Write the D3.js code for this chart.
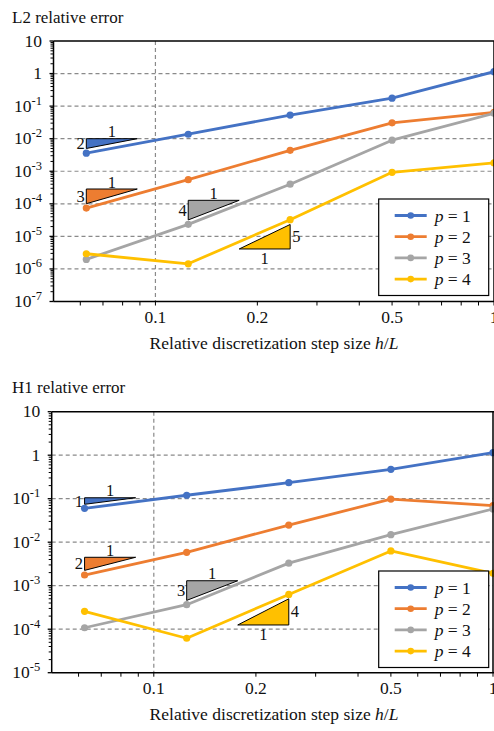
<!DOCTYPE html>
<html><head><meta charset="utf-8">
<script src="https://cdn.jsdelivr.net/npm/d3@7"></script>
<style>body{margin:0;background:#fff}</style>
</head><body><svg id="c" width="494" height="731" font-family="'Liberation Serif', 'Times New Roman', 'DejaVu Serif', serif"></svg>
<script>
// ---------- data ----------
const hValues = [0.0625, 0.125, 0.25, 0.5, 1];
const seriesOrders = ["1", "2", "3", "4"];
const seriesColors = ["#4472C4", "#ED7D31", "#A5A5A5", "#FFC000"];

const l2P1 = [3.6e-3, 1.37e-2, 0.053, 0.176, 1.14];
const l2P2 = [7.4e-5, 5.5e-4, 4.4e-3, 0.0307, 0.064];
const l2P3 = [1.96e-6, 2.34e-5, 4.0e-4, 9.0e-3, 0.06];
const l2P4 = [2.93e-6, 1.44e-6, 3.26e-5, 9.3e-4, 1.8e-3];

const h1P1 = [0.060, 0.12, 0.233, 0.474, 1.14];
const h1P2 = [1.76e-3, 5.86e-3, 0.0248, 0.098, 0.069];
const h1P3 = [1.08e-4, 3.66e-4, 3.3e-3, 0.0149, 0.058];
const h1P4 = [2.58e-4, 6.2e-5, 6.3e-4, 6.3e-3, 1.93e-3];

const xTickValues = [0.1, 0.2, 0.5, 1];
const xTickLabels = ["0.1", "0.2", "0.5", "1"];
const xMinorTicks = [0.06, 0.07, 0.08, 0.09, 0.3, 0.4, 0.6, 0.7, 0.8, 0.9];
const l2TickExps = [1, 0, -1, -2, -3, -4, -5, -6, -7];
const h1TickExps = [1, 0, -1, -2, -3, -4, -5];

// slope triangles: slope, anchor h, anchor value, kind
const l2Slopes = [2, 3, 4, 5];
const l2SlopeH = [0.0625, 0.0625, 0.125, 0.25];
const l2SlopeV = [1.0e-2, 2.85e-4, 1.28e-4, 4.1e-6];
const h1Slopes = [1, 2, 3, 4];
const h1SlopeH = [0.0625, 0.0625, 0.125, 0.25];
const h1SlopeV = [1.05e-1, 4.5e-3, 1.3e-3, 1.25e-4];
const slopeKinds = ["top", "top", "top", "bottom"];

// ---------- layout ----------
const panels = [
  { title: "L2 relative error", titleY: 23,
    series: [l2P1, l2P2, l2P3, l2P4], exps: l2TickExps,
    slopes: l2Slopes, slopeH: l2SlopeH, slopeV: l2SlopeV,
    left: 53.5, right: 494, top: 41, bottom: 301.5, legendTop: 199 },
  { title: "H1 relative error", titleY: 393,
    series: [h1P1, h1P2, h1P3, h1P4], exps: h1TickExps,
    slopes: h1Slopes, slopeH: h1SlopeH, slopeV: h1SlopeV,
    left: 51.7, right: 493, top: 411.7, bottom: 672.7, legendTop: 571 }
];

const svg = d3.select("#c");
const FF = "'Liberation Serif', 'Times New Roman', 'DejaVu Serif', serif";

panels.forEach(P => {
  const g = svg.append("g").attr("font-family", FF).attr("fill", "#111");
  const x = d3.scaleLog().domain([0.05, 1]).range([P.left, P.right]);
  const yMax = Math.pow(10, d3.max(P.exps)), yMin = Math.pow(10, d3.min(P.exps));
  const y = d3.scaleLog().domain([yMin, yMax]).range([P.bottom, P.top]);

  // title
  g.append("text").attr("x", 12).attr("y", P.titleY).attr("font-size", 17).text(P.title);

  // gridlines
  const gridExps = P.exps.filter(e => Math.pow(10, e) < yMax && Math.pow(10, e) > yMin);
  g.selectAll(".hg").data(gridExps).join("line")
    .attr("x1", P.left).attr("x2", P.right)
    .attr("y1", e => y(Math.pow(10, e))).attr("y2", e => y(Math.pow(10, e)))
    .attr("stroke", "#8a8a8a").attr("stroke-width", 1.2).attr("stroke-dasharray", "4,3");
  g.append("line").attr("x1", x(0.1)).attr("x2", x(0.1)).attr("y1", P.top).attr("y2", P.bottom)
    .attr("stroke", "#8a8a8a").attr("stroke-width", 1.2).attr("stroke-dasharray", "4,3");

  // slope triangles
  P.slopes.forEach((s, i) => {
    const h = P.slopeH[i], v = P.slopeV[i], kind = slopeKinds[i];
    const f = Math.SQRT2, col = seriesColors[i];
    let pts, lab1, labS;
    if (kind === "top") {
      pts = [[h, v], [h * f, v], [h, v / Math.pow(f, s)]];
      const xl = x(h), xr = x(h * f), yt = y(v), yb = y(v / Math.pow(f, s));
      lab1 = { x: (xl + xr) / 2, y: yt - 1.5, anchor: "middle" };
      labS = { x: xl - 1.5, y: (yt + yb) / 2 + 5.5, anchor: "end" };
    } else {
      pts = [[h / f, v], [h, v], [h, v * Math.pow(f, s)]];
      const xl = x(h / f), xr = x(h), yb = y(v), yt = y(v * Math.pow(f, s));
      lab1 = { x: (xl + xr) / 2, y: yb + 15, anchor: "middle" };
      labS = { x: xr + 2, y: (yt + yb) / 2 + 5.5, anchor: "start" };
    }
    g.append("path")
      .attr("d", d3.line().x(d => x(d[0])).y(d => y(d[1]))(pts) + "Z")
      .attr("fill", col).attr("stroke", "#000").attr("stroke-width", 1);
    g.append("text").attr("x", lab1.x).attr("y", lab1.y).attr("text-anchor", lab1.anchor)
      .attr("font-size", 16.5).text("1");
    g.append("text").attr("x", labS.x).attr("y", labS.y).attr("text-anchor", labS.anchor)
      .attr("font-size", 16.5).text(String(s));
  });

  // series lines
  const line = d3.line().x((d, j) => x(hValues[j])).y(d => y(d));
  P.series.forEach((vals, i) => {
    g.append("path").attr("d", line(vals)).attr("fill", "none")
      .attr("stroke", seriesColors[i]).attr("stroke-width", 2.8).attr("stroke-linejoin", "round");
    g.selectAll(null).data(vals).join("circle")
      .attr("cx", (d, j) => x(hValues[j])).attr("cy", d => y(d)).attr("r", 3.6)
      .attr("fill", seriesColors[i]);
  });

  // axes frame
  g.append("line").attr("x1", P.left).attr("x2", P.right + 2).attr("y1", P.top).attr("y2", P.top)
    .attr("stroke", "#000").attr("stroke-width", 1.5);
  g.append("line").attr("x1", P.right).attr("x2", P.right).attr("y1", P.top).attr("y2", P.bottom)
    .attr("stroke", "#000").attr("stroke-width", 1.5);
  g.append("line").attr("x1", P.left).attr("x2", P.left).attr("y1", P.top).attr("y2", P.bottom)
    .attr("stroke", "#000").attr("stroke-width", 1.5);
  g.append("line").attr("x1", P.left).attr("x2", P.right + 2).attr("y1", P.bottom).attr("y2", P.bottom)
    .attr("stroke", "#000").attr("stroke-width", 1.5);

  // y ticks (major + minor, outward)
  const minorY = [];
  P.exps.forEach(e => { if (Math.pow(10, e) < yMax) for (let k = 2; k <= 9; k++) minorY.push(k * Math.pow(10, e)); });
  g.selectAll(".ymi").data(minorY).join("line")
    .attr("x1", P.left - 3).attr("x2", P.left).attr("y1", d => y(d)).attr("y2", d => y(d))
    .attr("stroke", "#000").attr("stroke-width", 1);
  g.selectAll(".yma").data(P.exps).join("line")
    .attr("x1", P.left - 4).attr("x2", P.left).attr("y1", e => y(Math.pow(10, e))).attr("y2", e => y(Math.pow(10, e)))
    .attr("stroke", "#000").attr("stroke-width", 1.3);
  P.exps.forEach(e => {
    const t = g.append("text").attr("x", P.left - 11.5).attr("y", y(Math.pow(10, e)) + 5.5)
      .attr("text-anchor", "end").attr("font-size", 17.5);
    if (e === 1) t.text("10");
    else if (e === 0) t.text("1");
    else {
      t.append("tspan").text("10");
      t.append("tspan").attr("font-size", 12.5).attr("dy", -7).text("-" + (-e));
    }
  });

  // x ticks
  g.selectAll(".xmi").data(xMinorTicks.concat(xTickValues)).join("line")
    .attr("x1", d => x(d)).attr("x2", d => x(d)).attr("y1", P.bottom).attr("y2", P.bottom + 4)
    .attr("stroke", "#000").attr("stroke-width", 1);
  xTickValues.forEach((v, i) => {
    g.append("text").attr("x", x(v)).attr("y", P.bottom + 21.5).attr("text-anchor", "middle")
      .attr("font-size", 17.5).text(xTickLabels[i]);
  });
  const xl = g.append("text").attr("x", 274).attr("y", P.bottom + 47.5).attr("text-anchor", "middle")
    .attr("font-size", 17.5);
  xl.append("tspan").text("Relative discretization step size ");
  xl.append("tspan").attr("font-style", "italic").text("h");
  xl.append("tspan").text("/");
  xl.append("tspan").attr("font-style", "italic").text("L");

  // legend
  const lg = g.append("g").attr("transform", `translate(378.7,${P.legendTop})`);
  lg.append("rect").attr("width", 110).attr("height", 96.5).attr("fill", "#fff")
    .attr("stroke", "#000").attr("stroke-width", 1.2);
  seriesOrders.forEach((o, i) => {
    const cy = 16.5 + i * 21.2;
    lg.append("line").attr("x1", 16).attr("x2", 48).attr("y1", cy).attr("y2", cy)
      .attr("stroke", seriesColors[i]).attr("stroke-width", 2.8);
    lg.append("circle").attr("cx", 32).attr("cy", cy).attr("r", 3.3).attr("fill", seriesColors[i]);
    const t = lg.append("text").attr("x", 56).attr("y", cy + 6).attr("font-size", 17.5);
    t.append("tspan").attr("font-style", "italic").text("p");
    t.append("tspan").text(" = " + o);
  });
});
</script>
</body></html>
